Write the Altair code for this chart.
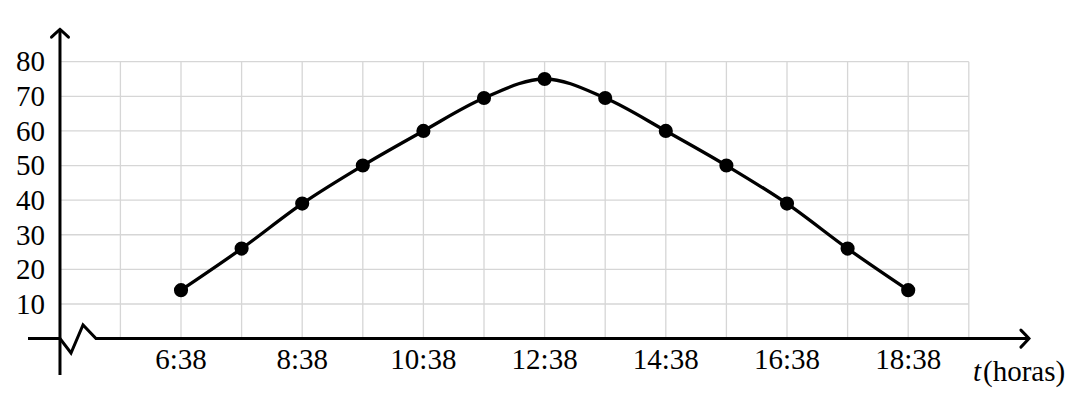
import altair as alt
import pandas as pd

# ---- data ----
times = ["6:38", "7:38", "8:38", "9:38", "10:38", "11:38", "12:38",
         "13:38", "14:38", "15:38", "16:38", "17:38", "18:38"]
altura = [14, 26, 39, 50, 60, 69.5, 75, 69.5, 60, 50, 39, 26, 14]
y_ticks = [10, 20, 30, 40, 50, 60, 70, 80]
x_tick_labels = ["6:38", "8:38", "10:38", "12:38", "14:38", "16:38", "18:38"]
grid_hours = list(range(5, 20))

def hour_of(label):
    return int(label.split(":")[0])

pts = pd.DataFrame({"h": [hour_of(t) for t in times], "v": altura, "lab": times})
xt = pd.DataFrame({"h": [hour_of(t) for t in x_tick_labels], "lab": x_tick_labels})
yt = pd.DataFrame({"v": y_ticks, "lab": [str(v) for v in y_ticks]})
gv = pd.DataFrame({"h": grid_hours})

FONT = "Liberation Serif"
FS = 29
AX = 4.003  # hour position of the vertical axis

W = 1060
xs = alt.Scale(domain=[3.1452, 3.1452 + W / 60.6], nice=False, zero=False)
ys = alt.Scale(domain=[-14.27, 95.51], nice=False, zero=False)

def X(f="h:Q"):
    return alt.X(f, scale=xs, axis=None)

def Y(f="v:Q"):
    return alt.Y(f, scale=ys, axis=None)

base = alt.Chart(pts)

GRID = "#d6d6d6"
grid_v = alt.Chart(gv).mark_rule(color=GRID, strokeWidth=1.3).encode(
    x=X(), y=alt.datum(0, scale=ys, axis=None), y2=alt.datum(80))
grid_h = alt.Chart(yt).mark_rule(color=GRID, strokeWidth=1.3).encode(
    y=Y(), x=alt.datum(AX, scale=xs, axis=None), x2=alt.datum(19))

# x axis with break zig-zag
xaxis_df = pd.DataFrame({
    "h": [3.475, AX, 4.185, 4.383, 4.597, 19.993],
    "v": [0, 0, -4.16, 3.93, 0, 0],
    "o": [0, 1, 2, 3, 4, 5],
})
xaxis = alt.Chart(xaxis_df).mark_line(color="black", strokeWidth=3, strokeJoin="miter").encode(
    x=X(), y=Y(), order="o:Q")
yaxis_df = pd.DataFrame({"h": [AX, AX], "v": [-10.5, 89.3], "o": [0, 1]})
yaxis = alt.Chart(yaxis_df).mark_line(color="black", strokeWidth=3).encode(
    x=X(), y=Y(), order="o:Q")

yarrow = alt.Chart(pd.DataFrame({"h": [AX], "v": [89.3]})).mark_point(
    shape="M-1,0.9 Q-0.4,0.35 0,0 Q0.4,0.35 1,0.9", filled=False, size=289,
    stroke="black", strokeWidth=3, opacity=1, strokeCap="round").encode(x=X(), y=Y())
xarrow = alt.Chart(pd.DataFrame({"h": [19.993], "v": [0]})).mark_point(
    shape="M-0.95,-1 Q-0.35,-0.4 0,0 Q-0.35,0.4 -0.95,1", filled=False, size=289,
    stroke="black", strokeWidth=3, opacity=1, strokeCap="round").encode(x=X(), y=Y())

curve = base.mark_line(color="black", strokeWidth=3.3, interpolate="monotone").encode(x=X(), y=Y())
dots = base.mark_circle(color="black", size=200, opacity=1).encode(x=X(), y=Y())

xlab = alt.Chart(xt).mark_text(font=FONT, fontSize=FS, align="center", baseline="alphabetic",
                               dy=30.6, color="black").encode(
    x=X(), y=alt.datum(0, scale=ys, axis=None), text="lab:N")
ylab = alt.Chart(yt).mark_text(font=FONT, fontSize=FS, align="right", baseline="alphabetic",
                               dx=-15, dy=9.8, color="black").encode(
    y=Y(), x=alt.datum(AX, scale=xs, axis=None), text="lab:N")

t_lab = alt.Chart(pd.DataFrame({"h": [19.993], "v": [0], "lab": ["t"]})).mark_text(
    font=FONT, fontSize=FS, fontStyle="italic", align="left", baseline="alphabetic",
    dx=-56, dy=42.4, color="black").encode(x=X(), y=Y(), text="lab:N")
horas_lab = alt.Chart(pd.DataFrame({"h": [19.993], "v": [0], "lab": ["(horas)"]})).mark_text(
    font=FONT, fontSize=FS, align="left", baseline="alphabetic",
    dx=-46, dy=42.4, color="black").encode(x=X(), y=Y(), text="lab:N")

chart = alt.layer(
    grid_v, grid_h, xaxis, yaxis, yarrow, xarrow, curve, dots, xlab, ylab, t_lab, horas_lab
).properties(
    width=W, height=380, padding=0,
    autosize=alt.AutoSizeParams(type="none"),
).configure_view(stroke=None)

chart.save("out.html", embed_options={"renderer": "svg", "actions": False})
